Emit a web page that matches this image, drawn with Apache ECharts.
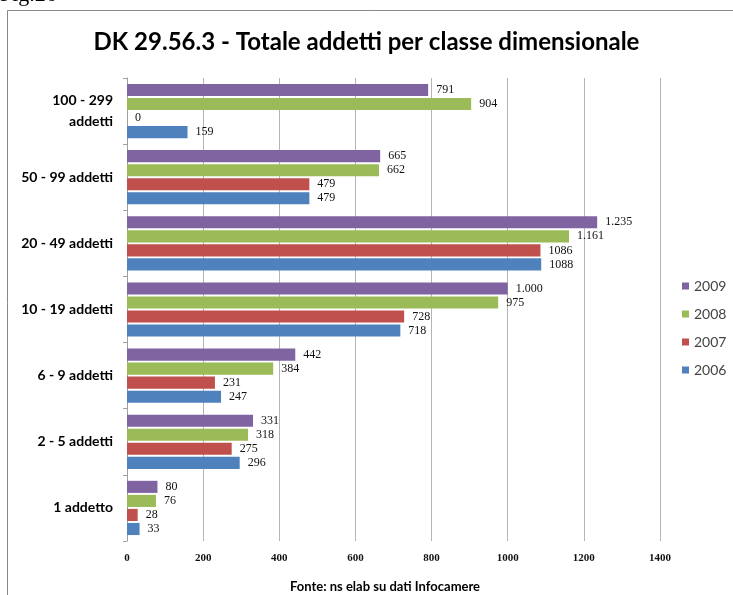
<!DOCTYPE html>
<html>
<head>
<meta charset="utf-8">
<script src="https://cdn.jsdelivr.net/npm/echarts@6/dist/echarts.min.js"></script>
<style>
  html, body { margin: 0; padding: 0; background: #fff; }
  #chart { width: 733px; height: 595px; }
</style>
</head>
<body>
<div id="chart"></div>
<script>
// classi dimensionali, dal basso verso l'alto
const categories = ['1 addetto', '2 - 5 addetti', '6 - 9 addetti', '10 - 19 addetti',
    '20 - 49 addetti', '50 - 99 addetti', '100 - 299\naddetti'];
const years = ['2009', '2008', '2007', '2006'];
const values2009 = [80, 331, 442, 1000, 1235, 665, 791];
const values2008 = [76, 318, 384, 975, 1161, 662, 904];
const values2007 = [28, 275, 231, 728, 1086, 479, 0];
const values2006 = [33, 296, 247, 718, 1088, 479, 159];
const xTicks = [0, 200, 400, 600, 800, 1000, 1200, 1400];

const colors = {'2009': '#8064A2', '2008': '#9BBB59', '2007': '#C0504D', '2006': '#4F81BD'};
// nel grafico originale solo 2008 e 2009 hanno il separatore delle migliaia
const dotted = {'2009': true, '2008': true, '2007': false, '2006': false};
const seriesValues = {'2009': values2009, '2008': values2008, '2007': values2007, '2006': values2006};

function formatNum(v, withDot) {
    let s = String(v);
    if (!withDot) return s;
    return s.replace(/\B(?=(\d{3})+(?!\d))/g, '.');
}

let myChart = echarts.init(document.getElementById('chart'));

let series = years.map(function (y) {
    return {
        name: y,
        type: 'bar',
        data: seriesValues[y],
        itemStyle: { color: colors[y] },
        barCategoryGap: '18%',
        barGap: '16%',
        label: {
            show: true,
            position: 'right',
            distance: 8,
            color: '#111',
            fontFamily: 'Liberation Serif',
            fontSize: 12,
            formatter: function (p) { return formatNum(p.value, dotted[y]); }
        }
    };
});

let option = {
    animation: false,
    backgroundColor: '#fff',
    title: [{
        text: 'DK 29.56.3 - Totale addetti per classe dimensionale',
        left: 'center',
        top: 25,
        textStyle: { fontFamily: 'Lato', fontWeight: 'bold', fontSize: 24, color: '#000' }
    }, {
        text: 'Fonte: ns elab su dati Infocamere',
        left: 290,
        top: 580,
        padding: 0,
        textStyle: { fontFamily: 'Lato', fontWeight: 'bold', fontSize: 13, color: '#000' }
    }],
    legend: {
        orient: 'vertical',
        left: 677,
        top: 274,
        itemWidth: 7,
        itemHeight: 7,
        itemGap: 14,
        icon: 'rect',
        data: years,
        textStyle: { fontFamily: 'Lato', fontSize: 14, color: '#444' }
    },
    grid: { left: 127, right: 73, top: 78, bottom: 54 },
    xAxis: {
        type: 'value',
        min: xTicks[0],
        max: xTicks[xTicks.length - 1],
        interval: 200,
        axisLine: { show: false },
        axisTick: { show: false },
        splitLine: { lineStyle: { color: '#b4b4b4', width: 1 } },
        axisLabel: {
            margin: 12,
            fontFamily: 'Liberation Serif',
            fontWeight: 'bold',
            fontSize: 11,
            color: '#111',
            formatter: function (v) { return String(v); }
        }
    },
    yAxis: {
        type: 'category',
        data: categories,
        axisLine: { show: true, lineStyle: { color: '#a0a0a0' } },
        axisTick: { show: true, length: 4, lineStyle: { color: '#a0a0a0' } },
        axisLabel: {
            margin: 14,
            fontFamily: 'Lato',
            fontWeight: 'bold',
            fontSize: 14,
            lineHeight: 21,
            align: 'right',
            color: '#000'
        }
    },
    graphic: [{
        type: 'rect',
        shape: { x: 7.5, y: 10.5, width: 760, height: 620 },
        style: { fill: null, stroke: '#888', lineWidth: 1 },
        silent: true
    }, {
        type: 'text',
        left: 0,
        top: -16,
        style: { text: 'Fig.26', font: '22px "Liberation Serif"', fill: '#000' },
        silent: true
    }],
    series: series
};
myChart.setOption(option);
</script>
</body>
</html>
